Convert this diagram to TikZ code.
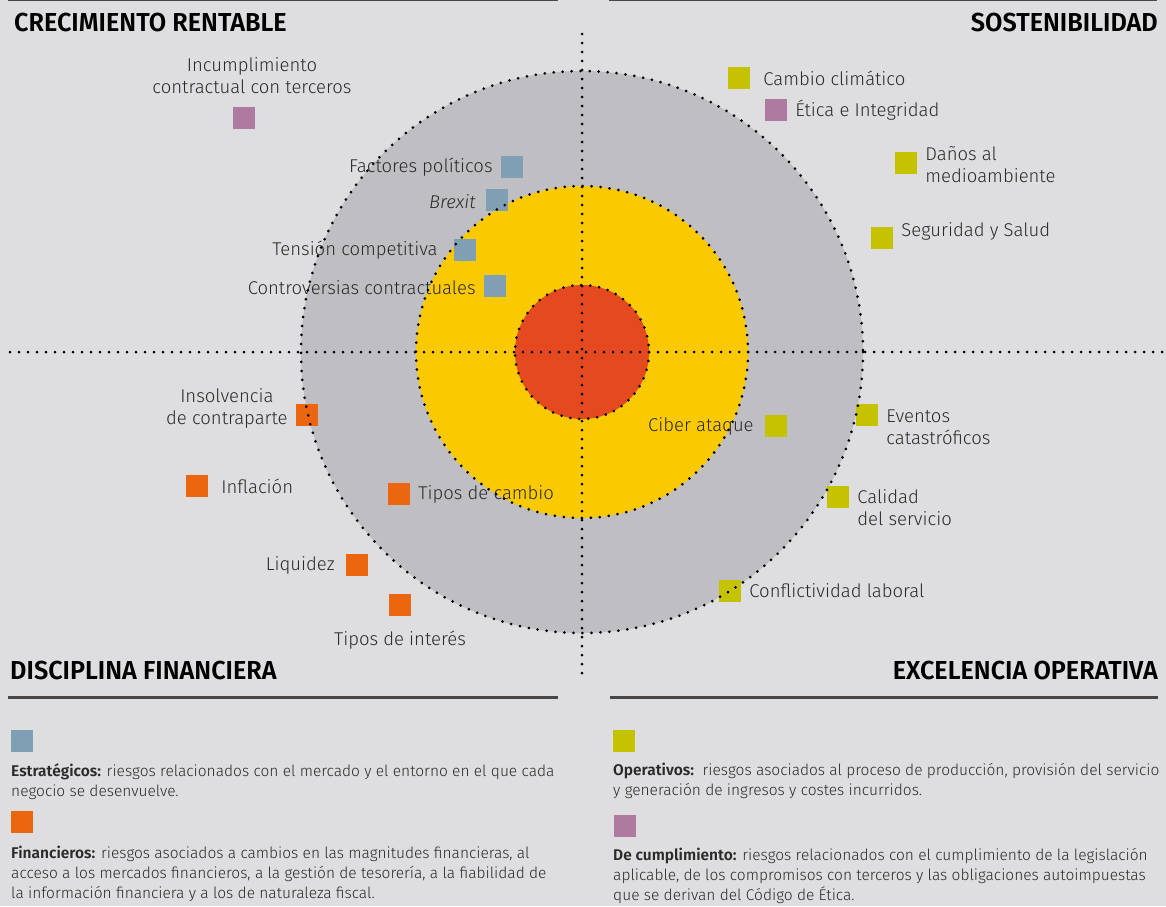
\documentclass[tikz,border=0pt]{standalone}
\usepackage{fontspec}
\setmainfont{Fira Sans}[UprightFont=* Light, ItalicFont=* Light Italic, BoldFont=* SemiBold]
\newfontfamily\headfont{Fira Sans}[UprightFont=* SemiBold]
\usetikzlibrary{positioning}

\definecolor{fondo}{HTML}{DEDEE0}
\definecolor{gris}{HTML}{BFBEC3}
\definecolor{amarillo}{HTML}{FBC900}
\definecolor{rojo}{HTML}{E4491F}
\definecolor{azul}{HTML}{7F9FB5}
\definecolor{naranja}{HTML}{EC650F}
\definecolor{oliva}{HTML}{C5C200}
\definecolor{lila}{HTML}{AE7AA0}
\definecolor{raya}{HTML}{4A4746}
\definecolor{tinta}{HTML}{2B2A29}

\begin{document}
\begin{tikzpicture}[x=1pt, y=-1pt]
			\tikzset {node distance=7pt, riskbox/.style={minimum size=22pt, inner sep=0pt},
				lbl/.style={text=tinta, font=\fontsize{18.5}{22}\selectfont, inner sep=1pt},
				head/.style={text=black, font=\headfont\fontsize{26}{26}\selectfont, inner sep=0pt, xscale=0.97},
				leyenda/.style={text=tinta, font=\fontsize{15.5}{20}\selectfont, align=left, anchor=north west, inner sep=0pt},
				punteado/.style={line width=3pt, line cap=round, dash pattern=on 0pt off 9pt},
				rule/.style={raya, line width=3pt} }
			
			\fill[fondo] (0,0) rectangle (1166,906);
			\useasboundingbox (0,0) rectangle (1166,906);
			
			% circles
			\coordinate (c) at (582,352);
			\fill[gris] (c) circle[radius=281];
			\fill[amarillo] (c) circle[radius=166];
			\fill[rojo] (c) circle[radius=67];
			
			% headers
			\draw[raya, line width=2pt] (8,0) -- (558,0) (609,0) -- (1157,0);
			\node[head, anchor=west] (crec) at (14,22) {CRECIMIENTO RENTABLE};
			\node[head, anchor=east] (sost) at (1158,22) {SOSTENIBILIDAD};
			\node[head, anchor=west] (disc) at (10,670) {DISCIPLINA FINANCIERA};
			\node[head, anchor=east] (exce) at (1158,670) {EXCELENCIA OPERATIVA};
			\draw[rule] (8,697) -- (558,697) (610,697) -- (1158,697);
			
			% crecimiento rentable
			\node[riskbox, fill=lila] (inc) at (244,118) {};
			\node[lbl, align=center, above=12pt of inc, xshift=8pt] {Incumplimiento\\contractual con terceros};
			\node[riskbox, fill=azul] (fp) at (512,167) {};
			\node[lbl, left=of fp] {Factores políticos};
			\node[riskbox, fill=azul] (brx) at (497,200) {};
			\node[lbl, left=9pt of brx, yshift=-2pt] {\itshape Brexit};
			\node[riskbox, fill=azul] (tc) at (465,250) {};
			\node[lbl, left=15pt of tc] {Tensión competitiva};
			\node[riskbox, fill=azul] (cc) at (495,286) {};
			\node[lbl, left=of cc, yshift=-2pt] {Controversias contractuales};
			
			% sostenibilidad
			\node[riskbox, fill=oliva] (cam) at (739,78) {};
			\node[lbl, right=12pt of cam] {Cambio climático};
			\node[riskbox, fill=lila] (eti) at (776,110) {};
			\node[lbl, right=of eti] {Ética e Integridad};
			\node[riskbox, fill=oliva] (dan) at (906,163) {};
			\node[lbl, right=of dan, align=left, yshift=-2pt] {Daños al\\medioambiente};
			\node[riskbox, fill=oliva] (seg) at (882,238) {};
			\node[lbl, right=of seg, yshift=7pt] {Seguridad y Salud};
			
			% disciplina financiera
			\node[riskbox, fill=naranja] (ins) at (307,415) {};
			\node[lbl, left=of ins, align=center, yshift=7pt] {Insolvencia\\de contraparte};
			\node[riskbox, fill=naranja] (inf) at (197,486) {};
			\node[lbl, right=12pt of inf] {Inflación};
			\node[riskbox, fill=naranja] (tca) at (399,494) {};
			\node[lbl, right=of tca] {Tipos de cambio};
			\node[riskbox, fill=naranja] (liq) at (357,565) {};
			\node[lbl, left=10pt of liq] {Liquidez};
			\node[riskbox, fill=naranja] (tin) at (400,605) {};
			\node[lbl, below=14pt of tin] {Tipos de interés};
			
			% excelencia operativa
			\node[riskbox, fill=oliva] (cib) at (776,426) {};
			\node[lbl, left=10pt of cib] {Ciber ataque};
			\node[riskbox, fill=oliva] (eve) at (867,415) {};
			\node[lbl, right=of eve, align=left, yshift=-12pt] {Eventos\\catastróficos};
			\node[riskbox, fill=oliva] (cal) at (838,497) {};
			\node[lbl, right=of cal, align=left, yshift=-11pt] {Calidad\\del servicio};
			\node[riskbox, fill=oliva] (con) at (730,591) {};
			\node[lbl, right=of con] {Conflictividad laboral};
			
			% dotted outlines and axes
			\draw[punteado] (c) circle[radius=281] (c) circle[radius=166] (c) circle[radius=67];
			\draw[punteado] (10,352) -- (1166,352);
			\draw[punteado] (582,34) -- (582,678);
			
			% legend
			\node[riskbox, fill=azul] (lazul) at (22,741) {};
			\node[leyenda] (tazul) at (11,763) {\textbf{Estratégicos:} riesgos relacionados con el mercado y el entorno en el que cada\\negocio se desenvuelve.};
			\node[riskbox, fill=naranja] (lnar) at (22,822) {};
			\node[leyenda] (tnar) at (11,846) {\textbf{Financieros:} riesgos asociados a cambios en las magnitudes financieras, al\\acceso a los mercados financieros, a la gestión de tesorería, a la fiabilidad de\\la información financiera y a los de naturaleza fiscal.};
			\node[riskbox, fill=oliva] (loli) at (624,741) {};
			\node[leyenda] (toli) at (613,763) {\textbf{Operativos:}\ \ riesgos asociados al proceso de producción, provisión del servicio\\y generación de ingresos y costes incurridos.};
			\node[riskbox, fill=lila] (llil) at (625,826) {};
			\node[leyenda] (tlil) at (613,848) {\textbf{De cumplimiento:} riesgos relacionados con el cumplimiento de la legislación\\aplicable, de los compromisos con terceros y las obligaciones autoimpuestas\\que se derivan del Código de Ética.};
		\end{tikzpicture}
\end{document}
